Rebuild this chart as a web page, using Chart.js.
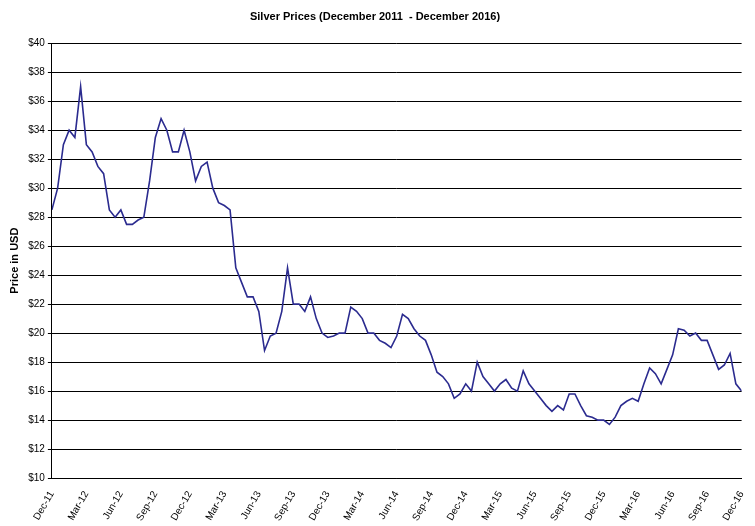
<!DOCTYPE html>
<html>
<head>
<meta charset="utf-8">
<script src="https://cdn.jsdelivr.net/npm/chart.js@4"></script>
<style>
  body { margin: 0; background: #fff; }
  #wrap { width: 755px; height: 526px; }
</style>
</head>
<body>
<div id="wrap"><canvas id="c"></canvas></div>
<script>
// Etiquetas del eje X (cada 3 meses)
const tickLabels = ['Dec-11','Mar-12','Jun-12','Sep-12','Dec-12','Mar-13','Jun-13','Sep-13','Dec-13',
  'Mar-14','Jun-14','Sep-14','Dec-14','Mar-15','Jun-15','Sep-15','Dec-15','Mar-16','Jun-16','Sep-16','Dec-16'];

// Precio de la plata, un valor cada medio mes desde Dic-11
const prices = [
  28.5, 30, 33, 34, 33.5, 37, 33, 32.5, 31.5, 31, 28.5, 28, 28.5, 27.5, 27.5, 27.8, 28, 30.5, 33.5, 34.8,
  34, 32.5, 32.5, 34, 32.5, 30.5, 31.5, 31.8, 30, 29, 28.8, 28.5, 24.5, 23.5, 22.5, 22.5, 21.5, 18.8, 19.8, 20,
  21.5, 24.5, 22, 22, 21.5, 22.5, 21, 20, 19.7, 19.8, 20, 20, 21.8, 21.5, 21, 20, 20, 19.5, 19.3, 19,
  19.8, 21.3, 21, 20.3, 19.8, 19.5, 18.5, 17.3, 17, 16.5, 15.5, 15.8, 16.5, 16, 18, 17, 16.5, 16, 16.5, 16.8,
  16.2, 16, 17.4, 16.5, 16, 15.5, 15, 14.6, 15, 14.7, 15.8, 15.8, 15, 14.3, 14.2, 14, 14, 13.7, 14.2, 15,
  15.3, 15.5, 15.3, 16.5, 17.6, 17.2, 16.5, 17.5, 18.5, 20.3, 20.2, 19.8, 20, 19.5, 19.5, 18.5, 17.5, 17.8, 18.6, 16.5,
  16
];

const points = prices.map((p, i) => ({ x: i / 2, y: p }));

new Chart(document.getElementById('c'), {
  type: 'line',
  data: {
    datasets: [{
      data: points,
      borderColor: '#2b2b8f',
      borderWidth: 1.6,
      pointRadius: 0,
      tension: 0
    }]
  },
  options: {
    responsive: true,
    maintainAspectRatio: false,
    animation: false,
    layout: { padding: { top: 4, right: 9, left: 4, bottom: 0 } },
    plugins: {
      legend: { display: false },
      tooltip: { enabled: false },
      title: {
        display: true,
        text: 'Silver Prices (December 2011  - December 2016)',
        color: '#000',
        font: { family: 'Arial, Liberation Sans', size: 11, weight: 'bold' },
        padding: { top: 6, bottom: 20 }
      }
    },
    scales: {
      x: {
        type: 'linear',
        min: 0,
        max: 60,
        ticks: {
          stepSize: 3,
          maxRotation: 60,
          minRotation: 60,
          color: '#000',
          font: { family: 'Arial, Liberation Sans', size: 10 },
          callback: v => tickLabels[v / 3]
        },
        grid: { display: false, drawTicks: true },
        border: { color: '#000' }
      },
      y: {
        min: 10,
        max: 40,
        ticks: {
          stepSize: 2,
          color: '#000',
          font: { family: 'Arial, Liberation Sans', size: 10 },
          callback: v => '$' + v
        },
        grid: { color: '#000', tickLength: 4 },
        border: { color: '#000' },
        title: {
          display: true,
          text: 'Price in USD',
          color: '#000',
          font: { family: 'Arial, Liberation Sans', size: 11, weight: 'bold' }
        }
      }
    }
  }
});
</script>
</body>
</html>
